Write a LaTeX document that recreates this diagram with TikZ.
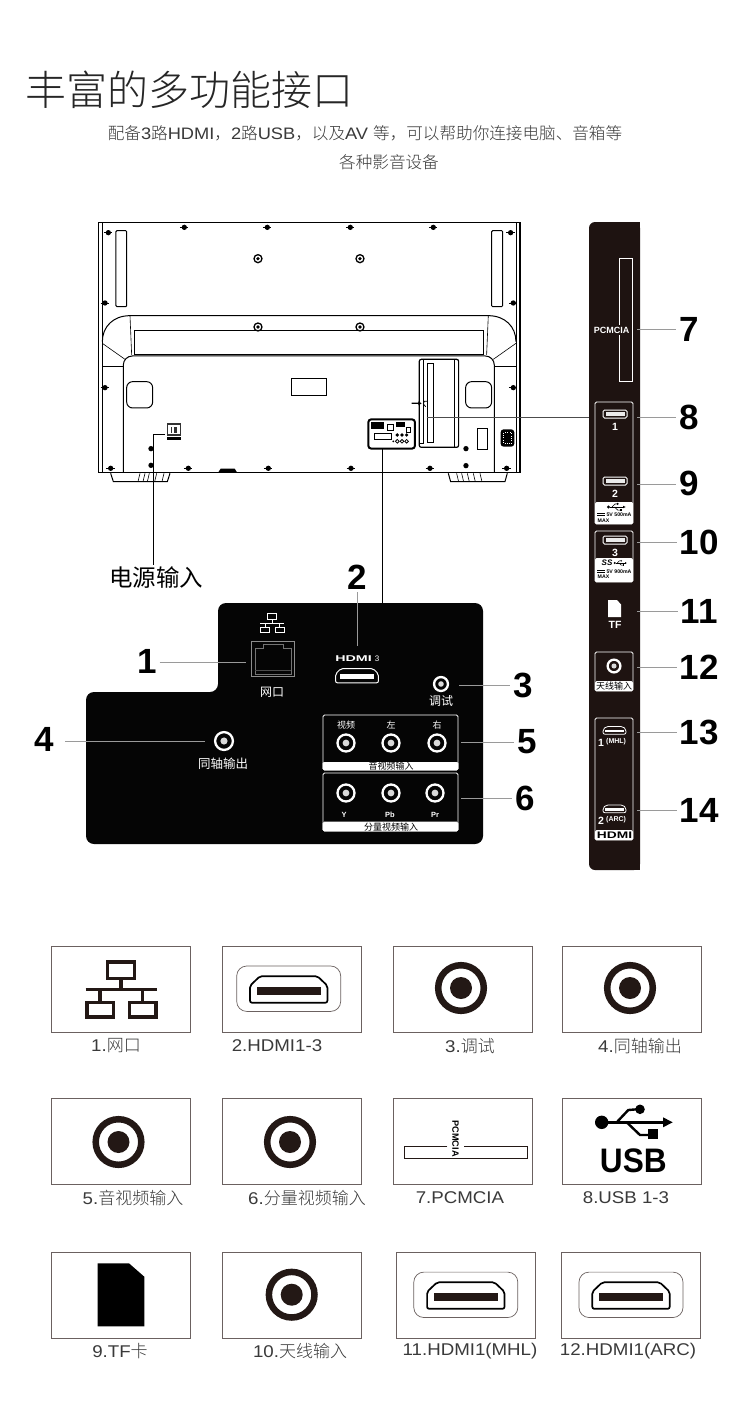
\documentclass[tikz,border=0pt]{standalone}
\usepackage{fontspec}
\setmainfont{Noto Sans CJK SC Light}
\newfontfamily\cjkreg{Noto Sans CJK SC}
\newfontfamily\latw[FakeStretch=1.1]{Liberation Sans}
\newfontfamily\arialf{Liberation Sans}
\newcommand{\fsz}[1]{\fontsize{#1}{#1}\selectfont}
\definecolor{stripdark}{HTML}{1E1311}
\definecolor{paneldark}{HTML}{050505}
\definecolor{leadgray}{HTML}{9A9A9A}
\definecolor{boxgray}{HTML}{6B6160}
\definecolor{ringdark}{HTML}{231815}
\definecolor{capgray}{HTML}{3A3A3A}
\tikzset{
  tvline/.style={line width=1pt,black},
  tvthin/.style={line width=.6pt,black},
  leader/.style={leadgray,line width=.8pt},
  numlabel/.style={font=\arialf\bfseries\fsz{35},inner sep=0pt,outer sep=3pt,black},
  paneltext/.style={font=\cjkreg\fsz{12},white,inner sep=0pt},
  avtext/.style={font=\cjkreg\fsz{9},white,inner sep=0pt},
  whitetext/.style={font=\cjkreg\fsz{9},black,inner sep=0pt},
  striplatin/.style={font=\arialf\bfseries\fsz{10.5},white,inner sep=0pt},
  tinylatin/.style={font=\arialf\bfseries\fsz{5.2},black,inner sep=0pt},
  iconbox/.style={draw=boxgray,line width=1pt,fill=white},
  caption/.style={font=\fsz{17},capgray,inner sep=0pt},
  portbox/.style={draw=white,line width=.9pt,rounded corners=1.5pt},
  ring/.pic={
    \draw[white,line width=2.3pt] (0,0) circle (8.5);
    \fill[white!85!black] (0,0) circle (3.4);
  },
  bigring/.pic={
    \draw[ringdark,line width=6.5pt] (0,0) circle (22.8);
    \fill[ringdark] (0,0) circle (11);
  },
  usbport/.pic={
    \draw[white,line width=1pt,rounded corners=1.5pt] (-12,-4) rectangle (12,4);
    \fill[white!92!black] (-9.5,-1.6) rectangle (9.5,1.6);
  },
  hdmiport/.pic={
    \draw[rounded corners=2pt] (-39.7,-2) -- (-29.7,-12) -- (29.7,-12) -- (39.7,-2)
      -- (39.7,14.6) -- (-39.7,14.6) -- cycle;
    \fill (-32,-1) rectangle (32,7);
  },
  hdmiframe/.pic={
    \draw[boxgray,line width=.7pt,rounded corners=10pt] (-52,-22.7) rectangle (52,22.7);
    \draw[line width=1.7pt,black,rounded corners=2pt] (-38.7,-3) -- (-28.7,-12.5) -- (28.7,-12.5)
      -- (38.7,-3) -- (38.7,14) -- (-38.7,14) -- cycle;
    \fill[ringdark] (-32,-1.5) rectangle (32,6.5);
  },
  netlogo/.pic={
    \draw (-13.7,-27.6) rectangle (13.3,-11);
    \draw (0,-9.5) -- (0,0);
    \draw (-35.3,0) -- (35.7,0);
    \draw (-21,0) -- (-21,12);
    \draw (21.3,0) -- (21.3,12);
    \draw (-34.3,13) rectangle (-7.7,27.4);
    \draw (8.3,13) rectangle (34.7,27.4);
  },
  usblogo/.pic={
    \fill (-31.3,0) circle (6.7);
    \draw (-25,0) -- (33,0);
    \fill (39.7,0) -- (30,-5) -- (30,5) -- cycle;
    \draw (-16.3,0) -- (-4.7,-12.3) -- (4,-13);
    \fill (7,-13) circle (4.8);
    \draw (-6.3,0) -- (7,12.7) -- (17,12.7);
    \fill (15.3,7) rectangle (24.7,17);
  }
}
\begin{document}
\begin{tikzpicture}[x=1pt,y=-1pt]
  \useasboundingbox (0,0) rectangle (750,1419);
  \fill[white] (0,0) rectangle (750,1419);

  % heading
  \node[anchor=west,inner sep=0pt,font=\fsz{41},black!85] (title) at (25.5,90) {丰富的多功能接口};
  \node[inner sep=0pt,font=\fsz{16.6},capgray] (sub1) at (365,133)
    {配备{\latw 3}路{\latw HDMI}，{\latw 2}路{\latw USB}，以及{\latw AV }等，可以帮助你连接电脑、音箱等};
  \node[inner sep=0pt,font=\fsz{16.6},capgray] (sub2) at (389,162) {各种影音设备};

  % rear view of the set
  \begin{scope}[shift={(90,210)},scale=.3333]
    \draw[line width=1.5pt] (25,38) rectangle (1290,787);
    \draw[tvthin] (37,38) -- (37,787);
    \draw[tvthin] (1278,38) -- (1278,787);
    \draw[tvline,rounded corners=1pt] (78,62) rectangle (110,290);
    \draw[tvline,rounded corners=1pt] (1205,62) rectangle (1238,290);
    \foreach \rx/\ry in {504/146,810/146,504/351,810/351}{
      \fill[white] (\rx,\ry) circle (15);
      \draw[line width=1.3pt] (\rx,\ry) circle (12);
      \fill (\rx,\ry) circle (5.5);
    }
    \foreach \sx/\sy in {283/52,532/52,781/52,1030/52,55/68,1262/68,45/279,1270/279,45/533,1270/533,62/775,295/775,535/775,783/775,1020/775,1250/775}{
      \fill (\sx,\sy) circle (8);
      \draw[line width=.7pt] (\sx-13,\sy) -- (\sx+12,\sy);
    }
    \foreach \sx/\sy in {183/716,183/766,1128/716,1128/767}{
      \fill (\sx,\sy) circle (8);
    }
    \draw[tvline] (37,395) .. controls (37,350) and (70,317) .. (120,317) -- (1195,317)
      .. controls (1245,317) and (1278,350) .. (1278,395);
    \draw[tvthin] (120,317) -- (125,435);
    \draw[tvthin] (1195,317) -- (1190,435);
    \draw[tvline] (133,362) rectangle (1182,435);
    \draw[tvthin] (37,400) -- (105,448);
    \draw[tvthin] (1278,400) -- (1210,448);
    \draw[tvthin] (37,470) -- (100,470);
    \draw[tvthin] (1215,470) -- (1278,470);
    \draw[tvline,rounded corners=9pt] (100,787) -- (100,438) -- (1213,438) -- (1213,787);
    \draw[tvline,rounded corners=6pt] (110,515) rectangle (188,594);
    \draw[tvline,rounded corners=6pt] (1127,515) rectangle (1205,594);
    \draw[tvline] (606,505) rectangle (709,556);
    % stand feet
    \draw[tvline] (62,790) -- (70,815) -- (232,815) -- (240,790);
    \draw[tvline] (1075,790) -- (1082,815) -- (1245,815) -- (1252,790);
    \foreach \hx in {150,165,178,200,222}{ \draw[tvthin] (\hx,790) -- (\hx-6,815); }
    \foreach \hx in {1100,1115,1132,1150,1170}{ \draw[tvthin] (\hx,790) -- (\hx+6,815); }
    \fill (385,787) -- (392,776) -- (434,776) -- (441,787) -- cycle;
    % side port cover
    \draw[line width=1.2pt,rounded corners=2pt] (988,448) rectangle (1106,712);
    \draw[tvthin] (1000,448) -- (1000,700) -- (988,700);
    \draw[tvline] (1012,460) rectangle (1030,697);
    \draw[tvthin] (1092,448) -- (1092,712);
    \fill (965,578) -- (985,578) -- (985,574) -- (995,580) -- (985,586) -- (985,582) -- (965,582) -- cycle;
    \draw[line width=.8pt] (1012,574) -- (1003,574) -- (1000,582) -- (1007,590);
    \draw[tvline] (1162,656) rectangle (1194,718);
    \fill[rounded corners=3pt] (1232,658) rectangle (1273,710);
    \draw[white,line width=.4pt,dotted] (1240,668) rectangle (1265,700);
    % power socket
    \fill[black!80] (230,640) rectangle (273,678);
    \fill[white] (235,646) rectangle (269,673);
    \fill[black!80] (243,650) rectangle (247,670);
    \fill[black!80] (251,650) rectangle (262,670);
    \fill (230,682) rectangle (273,691);
    % rear port block
    \draw[line width=2pt,rounded corners=3pt] (835,628) rectangle (975,716);
    \fill (843,636) rectangle (882,657);
    \draw[tvthin] (893,642) rectangle (911,662);
    \fill (917,636) rectangle (945,650);
    \draw[tvthin] (948,652) rectangle (960,668);
    \draw[tvline] (853,670) rectangle (905,689);
    \foreach \dx in {922,936,950}{
      \fill (\dx,675) circle (5.5);
      \draw[line width=.8pt] (\dx,694) circle (5.5);
    }
    \fill (910,694) circle (3);
  \end{scope}

  \coordinate (powerport) at (165,434);
  \coordinate (powerend) at (153.3,565);
  \node[inner sep=0pt,font=\cjkreg\fsz{23.5},black] (powerlabel) at (156,578) {电源输入};
  \draw[tvline] (powerport) -| (powerend);
  \coordinate (blockport) at (382.7,449);
  \coordinate (panelin) at (382.7,603);
  \draw[tvline] (blockport) -- (panelin);
  \coordinate (coverport) at (426.7,417);
  \coordinate (stripin) at (589,417);
  \draw[black!70,line width=.5pt] (coverport) -- (stripin);

  % terminal panel
  \fill[paneldark,rounded corners=8pt] (218,692) -- (218,603) -- (483,603) -- (483,844) -- (86,844) -- (86,692) -- cycle;
  \pic[color=white,line width=1.1pt,scale=.34] (netpanel) at (272.3,623.3) {netlogo};
  \draw[white!55!black,line width=.6pt] (251,641) rectangle (294,676);
  \draw[white!45!black,line width=.6pt] (255,674) -- (255,648) -- (263,648) -- (263,644) -- (283,644) -- (283,648) -- (291,648) -- (291,674) -- cycle;
  \draw[white!30!black,line width=.6pt] (255,670) -- (291,670);
  \node[paneltext] (netlabel) at (272,692) {网口};
  \node[inner sep=0pt,font=\arialf\bfseries\fsz{8.4},white,xscale=1.7,anchor=west] (hdmiword) at (335,659) {HDMI};
  \node[inner sep=0pt,font=\arialf\fsz{8},white] (hdminum) at (377,659) {3};
  \pic[color=white,line width=1pt,scale=.54] (hdmipanel) at (357,675) {hdmiport};
  \pic[scale=.82] (debugring) at (441,684) {ring};
  \node[paneltext] (debuglabel) at (441,701) {调试};
  \pic[scale=1.05] (coaxring) at (224,741) {ring};
  \node[paneltext,font=\cjkreg\fsz{12.5}] (coaxlabel) at (223,764) {同轴输出};
  \draw[white,line width=.9pt,rounded corners=1.5pt,fill=white] (323,762) rectangle (458,770);
  \fill[paneldark] (323.5,716) rectangle (457.5,762);
  \draw[white,line width=.9pt,rounded corners=1.5pt] (323,715) rectangle (458,770);
  \node[avtext] (avt1) at (346,725) {视频};
  \node[avtext] (avt2) at (391,725) {左};
  \node[avtext] (avt3) at (437,725) {右};
  \foreach \rx in {346,391,437}{ \pic at (\rx,743) {ring}; }
  \node[whitetext] (avtitle) at (391,766) {音视频输入};
  \draw[white,line width=.9pt,rounded corners=1.5pt,fill=white] (323,822) rectangle (458,831);
  \draw[white,line width=.9pt,rounded corners=1.5pt] (323,773) rectangle (458,831);
  \foreach \rx in {346,391,435}{ \pic at (\rx,793) {ring}; }
  \node[striplatin,font=\arialf\bfseries\fsz{7.5}] (cvt1) at (344,815) {Y};
  \node[striplatin,font=\arialf\bfseries\fsz{7.5}] (cvt2) at (390,815) {Pb};
  \node[striplatin,font=\arialf\bfseries\fsz{7.5}] (cvt3) at (435,815) {Pr};
  \node[whitetext] (cvtitle) at (391,827) {分量视频输入};

  % side strip
  \fill[stripdark,rounded corners=6pt] (589,222) rectangle (640,870);
  \fill[stripdark] (620,222) rectangle (640,870);
  \draw[white,line width=.9pt] (619.3,258.3) rectangle (632.3,381.7);
  \node[striplatin,font=\arialf\bfseries\fsz{9},fill=stripdark,inner xsep=1pt,inner ysep=2pt] (pcmcia) at (611.7,330) {PCMCIA};
  % usb 1 2
  \fill[white,rounded corners=1.5pt] (595,502) rectangle (633,524);
  \draw[portbox] (595,402) rectangle (633,524);
  \pic at (615,414) {usbport};
  \node[striplatin] (usb1) at (615,427) {1};
  \pic at (615,481) {usbport};
  \node[striplatin] (usb2) at (615,494) {2};
  \pic[color=black,line width=.6pt,scale=.24] (usblogo1) at (616,507) {usblogo};
  \draw[black,line width=.5pt] (597,513) -- (605,513);
  \draw[black,line width=.5pt,dash pattern=on 1.5pt off .6pt] (597,515) -- (605,515);
  \node[tinylatin] (usbv1) at (619,514.5) {5V 500mA};
  \node[tinylatin] (usbm1) at (603.5,521) {MAX};
  % usb 3
  \fill[white,rounded corners=1.5pt] (595,558) rectangle (633,582);
  \draw[portbox] (595,531) rectangle (633,582);
  \pic at (615,540) {usbport};
  \node[striplatin] (usb3) at (615,553) {3};
  \node[tinylatin,font=\arialf\bfseries\itshape\fsz{8}] (usbss) at (607,563) {SS};
  \pic[color=black,line width=.5pt,scale=.17] (usblogo2) at (620,563) {usblogo};
  \draw[black,line width=.5pt] (597,570) -- (605,570);
  \draw[black,line width=.5pt,dash pattern=on 1.5pt off .6pt] (597,572) -- (605,572);
  \node[tinylatin] (usbv2) at (619,571.5) {5V 900mA};
  \node[tinylatin] (usbm2) at (603.5,577) {MAX};
  % card slot
  \fill[white] (608,600) -- (617,600) -- (621,604.5) -- (621,617) -- (608,617) -- cycle;
  \node[striplatin] (tflabel) at (615,625) {TF};
  % antenna
  \fill[white,rounded corners=1.5pt] (595,681) rectangle (633,691);
  \draw[portbox] (595,652) rectangle (633,691);
  \pic[scale=.75] (antring) at (614,666) {ring};
  \node[whitetext] (antlabel) at (614,686) {天线输入};
  % hdmi 1 2
  \fill[white,rounded corners=1.5pt] (595,830) rectangle (633,840);
  \draw[portbox] (595,718) rectangle (633,840);
  \pic[color=white,line width=.8pt,scale=.29] (hdmistrip1) at (614.5,730) {hdmiport};
  \node[striplatin,anchor=west] (hdmi1) at (598,743) {1};
  \node[striplatin,anchor=west,font=\arialf\bfseries\fsz{7}] (mhl) at (606,742) {(MHL)};
  \pic[color=white,line width=.8pt,scale=.29] (hdmistrip2) at (614.5,808.5) {hdmiport};
  \node[striplatin,anchor=west] (hdmi2) at (598,821) {2};
  \node[striplatin,anchor=west,font=\arialf\bfseries\fsz{7}] (arc) at (606,820) {(ARC)};
  \node[inner sep=0pt,font=\arialf\bfseries\fsz{9.5},black,xscale=1.45] (hdmiword2) at (614.5,835) {HDMI};

  % numbers and leaders
  \node[numlabel] (num1) at (147,661) {1};
  \node[numlabel] (num2) at (357,577) {2};
  \node[numlabel] (num3) at (523,685) {3};
  \node[numlabel] (num4) at (44,739) {4};
  \node[numlabel] (num5) at (527,742) {5};
  \node[numlabel] (num6) at (525,798) {6};
  \node[numlabel] (num7) at (689,329) {7};
  \node[numlabel] (num8) at (689,417) {8};
  \node[numlabel] (num9) at (689,483) {9};
  \node[numlabel] (num10) at (699,542) {10};
  \node[numlabel] (num11) at (699,611) {11};
  \node[numlabel] (num12) at (699,667) {12};
  \node[numlabel] (num13) at (699,732) {13};
  \node[numlabel] (num14) at (699,810) {14};
  \coordinate (port1) at (246,662);
  \coordinate (port2) at (357,646);
  \coordinate (port3) at (459,685);
  \coordinate (port4) at (205,741);
  \coordinate (lead4) at (65,741);
  \coordinate (port5) at (461,742);
  \coordinate (port6) at (461,798);
  \draw[leader] (num1.east |- port1) -- (port1);
  \draw[leader] (num2.south) -- (port2);
  \draw[leader] (port3) -- (num3.west |- port3);
  \draw[leader] (lead4) -- (port4);
  \draw[leader] (port5) -- (num5.west |- port5);
  \draw[leader] (port6) -- (num6.west |- port6);
  \foreach \pn/\py in {7/329,8/417,9/484,10/542,11/611,12/667,13/732,14/810}{
    \coordinate (port\pn) at (637,\py);
    \draw[leader] (port\pn) -- (num\pn.west |- port\pn);
  }

  % gallery
  \foreach \bx/\by/\bw in {51.3/946/139,222/946/139,393.3/946/139,562.7/946/139,
    51.3/1098/139,222/1098/139,393.3/1098/139,562.7/1098/139,
    51.3/1252/139,222/1252/139,396.3/1252/139,561.7/1252/139}{
    \draw[iconbox] (\bx,\by) rectangle ++(\bw,86.3);
  }
  \pic[color=ringdark,line width=3.6pt] (neticon) at (121,989.3) {netlogo};
  \pic (hdmiicon1) at (288.7,988.7) {hdmiframe};
  \pic (ring3) at (461,988) {bigring};
  \pic (ring4) at (630,988) {bigring};
  \pic (ring5) at (118.5,1142) {bigring};
  \pic (ring6) at (290,1142) {bigring};
  \draw[ringdark,line width=1pt] (447.3,1146.7) -- (404,1146.7) -- (404,1158) -- (527.3,1158) -- (527.3,1146.7) -- (464,1146.7);
  \node[inner sep=0pt,font=\arialf\bfseries\fsz{9.2},rotate=-90,black] (pcmciaicon) at (455.5,1138.5) {PCMCIA};
  \pic[color=black,line width=2.4pt] (usbicon) at (633,1122.3) {usblogo};
  \node[inner sep=0pt,font=\arialf\bfseries\fsz{34},xscale=.93,black] (usbtext) at (633.3,1161) {USB};
  \fill (97.7,1263.3) -- (129,1263.3) -- (144.3,1276.7) -- (144.3,1326.3) -- (97.7,1326.3) -- cycle;
  \pic (ring10) at (291.7,1294.7) {bigring};
  \pic (hdmiicon2) at (465.8,1294.8) {hdmiframe};
  \pic (hdmiicon3) at (631,1294.8) {hdmiframe};

  \node[caption] (cap1) at (116,1046) {{\latw 1.}网口};
  \node[caption] (cap2) at (277,1046) {\latw 2.HDMI1-3};
  \node[caption] (cap3) at (470,1046) {{\latw 3.}调试};
  \node[caption] (cap4) at (640,1046) {{\latw 4.}同轴输出};
  \node[caption] (cap5) at (133,1198) {{\latw 5.}音视频输入};
  \node[caption] (cap6) at (307,1198) {{\latw 6.}分量视频输入};
  \node[caption] (cap7) at (460,1198) {\latw 7.PCMCIA};
  \node[caption] (cap8) at (626,1198) {\latw 8.USB 1-3};
  \node[caption] (cap9) at (120,1351) {{\latw 9.TF}卡};
  \node[caption] (cap10) at (300,1351) {{\latw 10.}天线输入};
  \node[caption] (cap11) at (470,1351) {\latw 11.HDMI1(MHL)};
  \node[caption] (cap12) at (628,1351) {\latw 12.HDMI1(ARC)};
\end{tikzpicture}
\end{document}
